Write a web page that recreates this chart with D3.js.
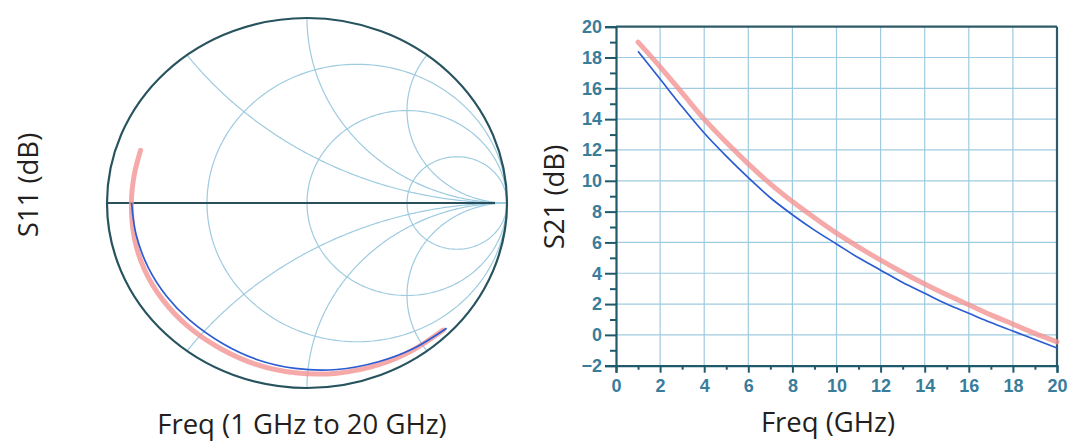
<!DOCTYPE html>
<html>
<head>
<meta charset="utf-8">
<script src="https://cdn.jsdelivr.net/npm/d3@7"></script>
<style>
  html, body { margin: 0; padding: 0; background: #fff; }
  svg { display: block; }
  .title { font-family: "Open Sans", "Noto Sans", sans-serif; fill: #231f20; }
  .tick-label { font-family: "Liberation Sans", Arial, sans-serif; font-weight: bold; fill: #3a7d9b; }
</style>
</head>
<body>
<svg id="chart" width="1069" height="441"></svg>
<script>
// ---- S21 data (dB vs GHz) ----
const freqGHz   = [1, 2, 3, 4, 5, 6, 7, 8, 9, 10, 11, 12, 13, 14, 15, 16, 17, 18, 19, 20];
const s21Blue   = [18.4, 16.6, 14.8, 13.1, 11.6, 10.2, 8.9, 7.8, 6.8, 5.9, 5.0, 4.2, 3.4, 2.7, 2.0, 1.4, 0.8, 0.25, -0.3, -0.85];
const s21Red    = [19.0, 17.4, 15.7, 14.0, 12.5, 11.1, 9.8, 8.65, 7.6, 6.6, 5.7, 4.85, 4.05, 3.3, 2.6, 1.95, 1.3, 0.7, 0.1, -0.45];

// ---- S11 reflection coefficient traces (real, imaginary), 1 GHz to 20 GHz ----
const s11BlueRe = [-0.877, -0.855, -0.795, -0.701, -0.588, -0.420, -0.248, -0.059, 0.149, 0.357, 0.530, 0.698];
const s11BlueIm = [0.000, -0.169, -0.346, -0.505, -0.632, -0.761, -0.847, -0.894, -0.900, -0.858, -0.788, -0.677];
const s11RedRe  = [-0.832, -0.864, -0.878, -0.863, -0.813, -0.723, -0.598, -0.429, -0.255, -0.058, 0.151, 0.359, 0.528, 0.681];
const s11RedIm  = [0.285, 0.151, 0.000, -0.190, -0.359, -0.521, -0.664, -0.789, -0.872, -0.918, -0.920, -0.874, -0.796, -0.687];

// ---- Smith chart grid values ----
const resistanceCircles = [1 / 3, 1, 3];
const reactanceArcs     = [0.5, 1, 2, -0.5, -1, -2];

// ---- Axis ticks ----
const xMajorTicks = [0, 2, 4, 6, 8, 10, 12, 14, 16, 18, 20];
const xMinorTicks = [1, 3, 5, 7, 9, 11, 13, 15, 17, 19];
const yMajorTicks = [-2, 0, 2, 4, 6, 8, 10, 12, 14, 16, 18, 20];
const yMinorTicks = [-1, 1, 3, 5, 7, 9, 11, 13, 15, 17, 19];

const svg = d3.select("#chart");
const gridColor = "#9ecbe0";
const traceRed = "#f29393";
const traceBlue = "#2b5cd2";

// ================= Smith chart =================
const gx = d3.scaleLinear().domain([-1, 1]).range([107, 507]);
const gy = d3.scaleLinear().domain([-1, 1]).range([388, 18]);
const gammaLine = d3.line().x(d => gx(d[0])).y(d => gy(d[1]));

const smith = svg.append("g");

// constant-resistance circles
resistanceCircles.forEach(r => {
  const c = r / (1 + r), rad = 1 / (1 + r);
  const pts = d3.range(0, 361, 2).map(a => {
    const t = a * Math.PI / 180;
    return [c + rad * Math.cos(t), rad * Math.sin(t)];
  });
  smith.append("path").attr("d", gammaLine(pts))
    .attr("fill", "none").attr("stroke", gridColor).attr("stroke-width", 1.2);
});

// constant-reactance arcs, swept over resistance from 0 upward
reactanceArcs.forEach(xv => {
  const rs = d3.range(0, 1, 0.005).map(u => u / (1 - u));
  const pts = rs.map(r => {
    const den = (r + 1) * (r + 1) + xv * xv;
    return [((r * r - 1) + xv * xv) / den, (2 * xv) / den];
  });
  pts.push([1, 0]);
  smith.append("path").attr("d", gammaLine(pts))
    .attr("fill", "none").attr("stroke", gridColor).attr("stroke-width", 1.2);
});

// outer boundary
smith.append("ellipse")
  .attr("cx", gx(0)).attr("cy", gy(0))
  .attr("rx", gx(1) - gx(0)).attr("ry", gy(-1) - gy(0))
  .attr("fill", "none").attr("stroke", "#27535f").attr("stroke-width", 2.2);

// real axis
smith.append("line")
  .attr("x1", gx(-1)).attr("x2", gx(0.94))
  .attr("y1", gy(0)).attr("y2", gy(0))
  .attr("stroke", "#2a4f5c").attr("stroke-width", 2.2);

// S11 traces
const redS11 = s11RedRe.map((v, i) => [v, s11RedIm[i]]);
const blueS11 = s11BlueRe.map((v, i) => [v, s11BlueIm[i]]);
const smoothGamma = d3.line().x(d => gx(d[0])).y(d => gy(d[1])).curve(d3.curveCatmullRom.alpha(0.5));
smith.append("path").attr("d", smoothGamma(redS11))
  .attr("fill", "none").attr("stroke", traceRed).attr("stroke-opacity", 0.8)
  .attr("stroke-width", 5).attr("stroke-linecap", "round");
smith.append("path").attr("d", smoothGamma(blueS11))
  .attr("fill", "none").attr("stroke", traceBlue).attr("stroke-width", 1.7);

// ================= S21 rectangular plot =================
const x = d3.scaleLinear().domain([0, 20]).range([616, 1057]);
const y = d3.scaleLinear().domain([-2, 20]).range([365.7, 26.7]);
const plot = svg.append("g");
const axisColor = "#1f5a6b";

// grid
plot.selectAll(".vgrid").data(xMajorTicks.filter(v => v > 0 && v < 20)).enter()
  .append("line").attr("x1", d => x(d)).attr("x2", d => x(d))
  .attr("y1", y(-2)).attr("y2", y(20))
  .attr("stroke", gridColor).attr("stroke-width", 1.2);
plot.selectAll(".hgrid").data(yMajorTicks.filter(v => v > -2 && v < 20)).enter()
  .append("line").attr("x1", x(0)).attr("x2", x(20))
  .attr("y1", d => y(d)).attr("y2", d => y(d))
  .attr("stroke", gridColor).attr("stroke-width", 1.2);

// frame: top and right edges
plot.append("line").attr("x1", x(0)).attr("x2", x(20)).attr("y1", y(20)).attr("y2", y(20))
  .attr("stroke", "#2d5a66").attr("stroke-width", 2.2);
plot.append("line").attr("x1", x(20)).attr("x2", x(20)).attr("y1", y(20)).attr("y2", y(-2))
  .attr("stroke", "#2d5a66").attr("stroke-width", 2.2);

// left axis
plot.append("g").attr("transform", `translate(${x(0)},0)`)
  .call(d3.axisLeft(y).tickValues(yMajorTicks).tickSize(11).tickPadding(3).tickFormat(d3.format("d")));
plot.append("g").attr("transform", `translate(${x(0)},0)`)
  .call(d3.axisLeft(y).tickValues(yMinorTicks).tickSize(6).tickFormat(""))
  .call(g => g.select(".domain").remove());

// bottom axis
plot.append("g").attr("transform", `translate(0,${y(-2)})`)
  .call(d3.axisBottom(x).tickValues(xMajorTicks).tickSize(7).tickPadding(7).tickFormat(d3.format("d")));
plot.append("g").attr("transform", `translate(0,${y(-2)})`)
  .call(d3.axisBottom(x).tickValues(xMinorTicks).tickSize(4).tickFormat(""))
  .call(g => g.select(".domain").remove());

plot.selectAll(".domain").attr("stroke", axisColor).attr("stroke-width", 2.2);
plot.selectAll(".tick line").attr("stroke", axisColor).attr("stroke-width", 2);
plot.selectAll(".tick text").attr("class", "tick-label").attr("font-size", 18)
  .attr("fill", "#3a7d9b");

// S21 curves
const s21Line = d3.line().x(d => x(d[0])).y(d => y(d[1])).curve(d3.curveMonotoneX);
plot.append("path").attr("d", s21Line(freqGHz.map((f, i) => [f, s21Red[i]])))
  .attr("fill", "none").attr("stroke", traceRed).attr("stroke-opacity", 0.8)
  .attr("stroke-width", 5).attr("stroke-linecap", "round");
plot.append("path").attr("d", s21Line(freqGHz.map((f, i) => [f, s21Blue[i]])))
  .attr("fill", "none").attr("stroke", traceBlue).attr("stroke-width", 1.7);

// ================= Titles =================
svg.append("text").attr("class", "title").attr("font-size", 27.5)
  .attr("text-anchor", "middle")
  .attr("transform", "translate(38,185) rotate(-90)").text("S11 (dB)");
svg.append("text").attr("class", "title").attr("font-size", 27.5)
  .attr("text-anchor", "middle").attr("x", 302).attr("y", 434).text("Freq (1 GHz to 20 GHz)");
svg.append("text").attr("class", "title").attr("font-size", 27.5)
  .attr("text-anchor", "middle")
  .attr("transform", "translate(564,197) rotate(-90)").text("S21 (dB)");
svg.append("text").attr("class", "title").attr("font-size", 27.5)
  .attr("text-anchor", "middle").attr("x", 828).attr("y", 432).text("Freq (GHz)");
</script>
</body>
</html>
